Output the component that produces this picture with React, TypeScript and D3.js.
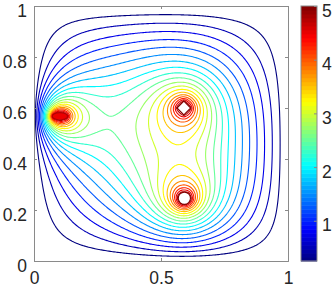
import * as d3 from "d3";
import { useEffect, useRef } from "react";

const width = 332;
const height = 288;
const plot = { left: 34, right: 288, top: 6, bottom: 261 };
const bar = { left: 301, right: 317 };

const xTicks = [0, 0.5, 1];
const yTicks = [0, 0.2, 0.4, 0.6, 0.8, 1];
const colorTicks = [1, 2, 3, 4, 5];
const colorLimits = [0.25, 5];
const levels = [
  0.25, 0.5, 0.75, 1, 1.25, 1.5, 1.75, 2, 2.25, 2.5, 2.75, 3, 3.25, 3.5, 3.75, 4, 4.25, 4.5, 4.75,
];

// the three electrodes held at fixed potential, walls at zero
const sourceShape = ["ellipse", "diamond", "circle"];
const sourceX = [0.102, 0.59, 0.592];
const sourceY = [0.568, 0.6, 0.246];
const sourceRx = [0.03, 0.027, 0.024];
const sourceRy = [0.014, 0.027, 0.024];
const sourceValue = [5, 5, 5];
const wallValue = 0;

const gridSize = 201;

function jet(t: number) {
  const c = (v: number) => Math.round(255 * Math.max(0, Math.min(1, v)));
  return d3.rgb(c(1.5 - Math.abs(4 * t - 3)), c(1.5 - Math.abs(4 * t - 2)), c(1.5 - Math.abs(4 * t - 1))).formatHex();
}

function inside(k: number, x: number, y: number) {
  const dx = (x - sourceX[k]) / sourceRx[k];
  const dy = (y - sourceY[k]) / sourceRy[k];
  if (sourceShape[k] === "diamond") return Math.abs(dx) + Math.abs(dy) <= 1;
  return dx * dx + dy * dy <= 1;
}

function solveField() {
  const n = gridSize;
  const u = new Float64Array(n * n);
  const fixed = new Uint8Array(n * n);
  for (let j = 0; j < n; j++) {
    for (let i = 0; i < n; i++) {
      const idx = j * n + i;
      const x = i / (n - 1);
      const y = j / (n - 1);
      if (i === 0 || j === 0 || i === n - 1 || j === n - 1) {
        fixed[idx] = 1;
        u[idx] = wallValue;
        continue;
      }
      for (let k = 0; k < sourceShape.length; k++) {
        if (inside(k, x, y)) {
          fixed[idx] = 1;
          u[idx] = sourceValue[k];
        }
      }
    }
  }
  const omega = 2 / (1 + Math.sin(Math.PI / n));
  for (let it = 0; it < 1800; it++) {
    for (let j = 1; j < n - 1; j++) {
      for (let i = 1; i < n - 1; i++) {
        const idx = j * n + i;
        if (fixed[idx]) continue;
        const avg = 0.25 * (u[idx - 1] + u[idx + 1] + u[idx - n] + u[idx + n]);
        u[idx] += omega * (avg - u[idx]);
      }
    }
  }
  return u;
}

export default function App() {
  const svgRef = useRef<SVGSVGElement | null>(null);

  useEffect(() => {
    if (!svgRef.current) return;
    const svg = d3.select(svgRef.current);
    svg.selectAll("*").remove();

    const x = d3.scaleLinear().domain([0, 1]).range([plot.left, plot.right]);
    const y = d3.scaleLinear().domain([0, 1]).range([plot.bottom, plot.top]);
    const color = (v: number) => jet((v - colorLimits[0]) / (colorLimits[1] - colorLimits[0]));

    svg.append("rect").attr("width", width).attr("height", height).attr("fill", "#fff");

    const field = solveField();
    const n = gridSize;
    const contours = d3.contours().size([n, n]).thresholds(levels)(Array.from(field));
    const project = d3.geoTransform({
      point(px: number, py: number) {
        this.stream.point(x((px - 0.5) / (n - 1)), y((py - 0.5) / (n - 1)));
      },
    });
    const path = d3.geoPath(project);

    svg
      .append("g")
      .selectAll("path")
      .data(contours)
      .join("path")
      .attr("d", (c) => path(c as any))
      .attr("fill", "none")
      .attr("stroke", (c) => color(c.value))
      .attr("stroke-width", 1.1);

    // electrodes
    const shapes = svg.append("g");
    sourceShape.forEach((shape, k) => {
      const cx = x(sourceX[k]);
      const cy = y(sourceY[k]);
      const rx = x(sourceRx[k]) - x(0);
      const ry = y(0) - y(sourceRy[k]);
      if (shape === "diamond") {
        shapes
          .append("path")
          .attr("d", `M${cx - rx},${cy}L${cx},${cy - ry}L${cx + rx},${cy}L${cx},${cy + ry}Z`)
          .attr("fill", "#fff")
          .attr("stroke", color(sourceValue[k]))
          .attr("stroke-width", 1.1);
      } else if (shape === "circle") {
        shapes
          .append("ellipse")
          .attr("cx", cx)
          .attr("cy", cy)
          .attr("rx", rx)
          .attr("ry", ry)
          .attr("fill", "#fff")
          .attr("stroke", color(sourceValue[k]))
          .attr("stroke-width", 1.1);
      } else {
        shapes
          .append("ellipse")
          .attr("cx", cx)
          .attr("cy", cy)
          .attr("rx", rx)
          .attr("ry", ry)
          .attr("fill", color(4.5))
          .attr("stroke", color(4.75))
          .attr("stroke-width", 1.1);
      }
    });

    // axes box with inward ticks
    const axisColor = "#8a8a8a";
    const textColor = "#262626";
    const font = "'Liberation Sans', Arial, sans-serif";
    const styleAxis = (g: d3.Selection<SVGGElement, unknown, null, undefined>) => {
      g.select(".domain").attr("stroke", axisColor);
      g.selectAll(".tick line").attr("stroke", axisColor);
      g.selectAll("text").attr("fill", textColor).attr("font-family", font).attr("font-size", 17.5);
    };

    svg
      .append("g")
      .attr("transform", `translate(0,${plot.bottom})`)
      .call(d3.axisBottom(x).tickValues(xTicks).tickSize(-3).tickPadding(11).tickFormat((d) => String(d)))
      .call(styleAxis);
    svg
      .append("g")
      .attr("transform", `translate(0,${plot.top})`)
      .call(d3.axisTop(x).tickValues(xTicks).tickSize(-3).tickFormat(() => ""))
      .call(styleAxis);
    svg
      .append("g")
      .attr("transform", `translate(${plot.left},0)`)
      .call(d3.axisLeft(y).tickValues(yTicks).tickSize(-3).tickPadding(7).tickFormat((d) => String(d)))
      .call(styleAxis)
      .call((g) => g.selectAll("text").attr("dy", "0.58em"));
    svg
      .append("g")
      .attr("transform", `translate(${plot.right},0)`)
      .call(d3.axisRight(y).tickValues(yTicks).tickSize(-3).tickFormat(() => ""))
      .call(styleAxis);

    // colorbar
    const cy = d3.scaleLinear().domain(colorLimits).range([plot.bottom, plot.top]);
    const steps = d3.range(64);
    const stepH = (plot.bottom - plot.top) / steps.length;
    svg
      .append("g")
      .selectAll("rect")
      .data(steps)
      .join("rect")
      .attr("x", bar.left)
      .attr("y", (s) => plot.bottom - (s + 1) * stepH)
      .attr("width", bar.right - bar.left)
      .attr("height", stepH + 0.5)
      .attr("fill", (s) => jet((s + 0.5) / steps.length));
    svg
      .append("rect")
      .attr("x", bar.left)
      .attr("y", plot.top)
      .attr("width", bar.right - bar.left)
      .attr("height", plot.bottom - plot.top)
      .attr("fill", "none")
      .attr("stroke", axisColor);
    svg
      .append("g")
      .attr("transform", `translate(${bar.right},0)`)
      .call(d3.axisRight(cy).tickValues(colorTicks).tickSize(-3).tickPadding(5).tickFormat((d) => String(d)))
      .call(styleAxis)
      .call((g) => g.select(".domain").remove())
      .call((g) => g.selectAll("text").attr("dy", "0.58em"));
  }, []);

  return (
    <svg
      ref={svgRef}
      width={width}
      height={height}
      style={{ position: "absolute", left: 0, top: 0 }}
    />
  );
}
